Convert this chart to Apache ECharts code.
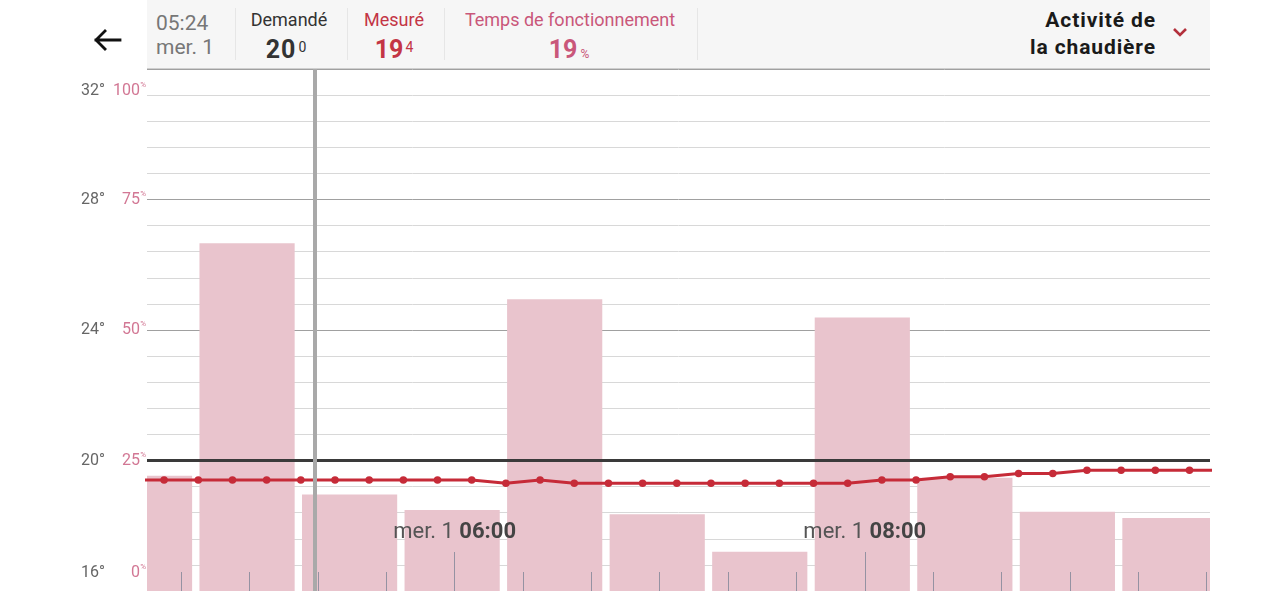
<!DOCTYPE html>
<html>
<head>
<meta charset="utf-8">
<script src="https://cdn.jsdelivr.net/npm/echarts@6/dist/echarts.min.js"></script>
<style>
  html, body { margin:0; padding:0; background:#fff; }
  #wrap { position:relative; width:1280px; height:591px; overflow:hidden; font-family: Roboto, "Noto Sans", sans-serif; }
  #chart { position:absolute; left:0; top:0; width:1280px; height:591px; }
  #header { position:absolute; left:147px; top:0; width:1063px; height:69px; background:#f6f6f6; border-bottom:1px solid #cfcfcf; box-sizing:border-box; }
  .t { position:absolute; white-space:nowrap; line-height:1; }
  .sep { position:absolute; top:8px; width:1px; height:52px; background:#e6e6e6; }
  .val { font-weight:bold; font-size:25px; }
  .sup { font-size:14px; font-weight:normal; position:relative; top:-6px; margin-left:2px; }
  .pct { font-size:12px; font-weight:normal; margin-left:3px; }
  .ttl { font-size:21px; font-weight:bold; color:#1a1a1a; letter-spacing:0.9px; text-align:right; }
</style>
</head>
<body>
<div id="wrap">
  <div id="chart"></div>
  <svg style="position:absolute;left:90px;top:26px" width="36" height="28" viewBox="0 0 36 28">
    <path d="M30 14 H6 M15 5 L6 14 L15 23" fill="none" stroke="#111" stroke-width="2.8" stroke-linecap="square"/>
  </svg>
  <div id="header">
    <div class="t" style="left:9px;top:13px;font-size:21px;color:#777;">05:24</div>
    <div class="t" style="left:9px;top:37px;font-size:21px;color:#777;">mer. 1</div>
    <div class="sep" style="left:88px"></div>
    <div class="t" style="left:142px;top:11px;font-size:18px;color:#333;transform:translateX(-50%);">Demandé</div>
    <div class="t" style="left:139px;top:37px;color:#333;transform:translateX(-50%);"><span class="val" style="letter-spacing:1px">20</span><span class="sup">0</span></div>
    <div class="sep" style="left:200px"></div>
    <div class="t" style="left:247px;top:11px;font-size:18px;color:#c33545;transform:translateX(-50%);">Mesuré</div>
    <div class="t" style="left:247px;top:37px;color:#c33545;transform:translateX(-50%);"><span class="val">19</span><span class="sup">4</span></div>
    <div class="sep" style="left:297px"></div>
    <div class="t" style="left:423px;top:11px;font-size:18px;color:#c9577a;transform:translateX(-50%);">Temps de fonctionnement</div>
    <div class="t" style="left:422px;top:37px;color:#c9577a;transform:translateX(-50%);"><span class="val">19</span><span class="pct">%</span></div>
    <div class="sep" style="left:550px"></div>
    <div class="t ttl" style="right:54px;top:10px;">Activité de</div>
    <div class="t ttl" style="right:54px;top:37px;">la chaudière</div>
    <svg style="position:absolute;left:1024px;top:26px" width="18" height="12" viewBox="0 0 18 12">
      <path d="M3 3 L9 9 L15 3" fill="none" stroke="#b3303c" stroke-width="2.6"/>
    </svg>
  </div>
</div>
<script>
// ---- data (x in minutes since midnight) ----
const tempTimes  = [265,275,285,295,305,315,325,335,345,355,365,375,385,395,405,415,425,435,445,455,465,475,485,495,505,515,525,535,545,555,565,575,585];
const tempValues = [19.4,19.4,19.4,19.4,19.4,19.4,19.4,19.4,19.4,19.4,19.4,19.3,19.4,19.3,19.3,19.3,19.3,19.3,19.3,19.3,19.3,19.3,19.4,19.4,19.5,19.5,19.6,19.6,19.7,19.7,19.7,19.7,19.7];
const barTimes   = [270,300,330,360,390,420,450,480,510,540,570];
const barValues  = [22.1,66.6,18.5,15.5,55.9,14.7,7.5,52.4,21.7,15.2,14.0];
const bucketHalf = 15;            // each bar is a 30-minute bucket
const barInsetLeft = 0.35, barInsetRight = 1.8; // visual gap in minutes
const setpoint   = 20;
const cursorTime = 319;
const xMin = 270, xMax = 581;
const minorTickTimes = [280,300,320,340,360,380,400,420,440,460,480,500,520,540,560,580];
const labelTimes = [360,480];
const dayLabel = 'mer. 1';
const tempMin = 16, tempMax = 32, tempStep = 0.8;
const labelEvery = 5;

function hhmm(m){ const h=Math.floor(m/60), mm=m%60; return String(h).padStart(2,'0')+':'+String(mm).padStart(2,'0'); }

const chart = echarts.init(document.getElementById('chart'), null, {renderer:'canvas'});
const richY = {
  t:{fontSize:16,color:'#666',width:36,align:'right',lineHeight:20,fontFamily:'Roboto'},
  g:{width:7,lineHeight:20},
  p:{fontSize:16,color:'#d27794',width:28,align:'right',lineHeight:20,fontFamily:'Roboto'},
  s:{fontSize:8,color:'#d27794',lineHeight:12,verticalAlign:'top',width:6,fontFamily:'Roboto'},
  gapTop:{lineHeight:44},
  gapBot:{lineHeight:36}
};
const lastIdx = Math.round((tempMax-tempMin)/tempStep);
chart.setOption({
  animation:false,
  grid:{left:147,right:70,top:69,bottom:0,outerBoundsMode:'none'},
  xAxis:[
    {type:'value',min:xMin,max:xMax,z:5,
     axisLine:{show:false},splitLine:{show:false},
     axisTick:{show:true,inside:true,length:19,customValues:minorTickTimes,lineStyle:{color:'#9592a2',width:1}},
     axisLabel:{show:false}},
    {type:'value',min:xMin,max:xMax,z:5,position:'bottom',
     axisLine:{show:false},splitLine:{show:false},
     axisTick:{show:true,inside:true,length:39,customValues:labelTimes,lineStyle:{color:'#9592a2',width:1}},
     axisLabel:{show:true,inside:true,margin:47,customValues:labelTimes,
       formatter:(v)=>'{a|'+dayLabel+' }{b|'+hhmm(v)+'}',
       rich:{a:{fontSize:22,color:'#555',lineHeight:24,fontFamily:'Roboto'},b:{fontSize:22,color:'#444',fontWeight:'bold',lineHeight:24,fontFamily:'Roboto'}}}}
  ],
  yAxis:[
    {type:'value',min:tempMin,max:tempMax,interval:tempStep,
     axisLine:{show:false},axisTick:{show:false},
     splitLine:{show:true,lineStyle:{width:1,color:['#a0a0a0','#d8d8d8','#d8d8d8','#d8d8d8','#d8d8d8']}},
     axisLabel:{show:true,margin:1,showMinLabel:true,showMaxLabel:true,
       formatter:(v,i)=>{
         if(i%labelEvery!==0) return '';
         const t=Math.round(v);
         const p=Math.round((v-tempMin)/(tempMax-tempMin)*100);
         const s='{t|'+t+'°}{g|}{p|'+p+'}{s|%}';
         if(i===lastIdx) return '{gapTop|}\n'+s;
         if(i===0) return s+'\n{gapBot|}';
         return s;
       },
       rich:richY}},
    {type:'value',min:0,max:100,show:false,splitLine:{show:false}}
  ],
  series:[
    {type:'custom',xAxisIndex:0,yAxisIndex:1,silent:true,z:2,
     data:barTimes.map((t,i)=>[t,barValues[i]]),
     renderItem:(params,api)=>{
       const x=api.value(0), v=api.value(1);
       const tl=api.coord([x-bucketHalf+barInsetLeft,v]);
       const br=api.coord([x+bucketHalf-barInsetRight,0]);
       const cs=params.coordSys;
       const shape=echarts.graphic.clipRectByRect(
         {x:tl[0],y:tl[1],width:br[0]-tl[0],height:br[1]-tl[1]},
         {x:cs.x,y:cs.y,width:cs.width,height:cs.height});
       return shape && {type:'rect',shape:shape,style:{fill:'#e9c4cd'}};
     }},
    {type:'line',xAxisIndex:0,yAxisIndex:0,clip:true,
     data:tempTimes.map((t,i)=>[t,tempValues[i]]),
     symbol:'circle',symbolSize:7.5,showSymbol:true,
     lineStyle:{color:'#c62b38',width:3},itemStyle:{color:'#c62b38'},silent:true,z:4,
     markLine:{silent:true,symbol:'none',label:{show:false},
       data:[
         {yAxis:setpoint,lineStyle:{color:'#3a3a3a',width:3,type:'solid'}},
         {xAxis:cursorTime,lineStyle:{color:'#a9a9a9',width:4,type:'solid'}}
       ]}}
  ]
});
</script>
</body>
</html>
